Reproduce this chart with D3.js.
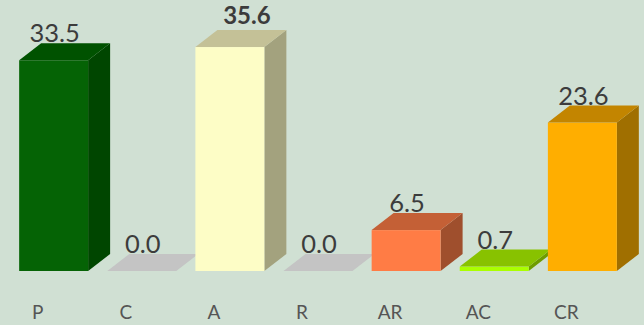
<!DOCTYPE html>
<html>
<head>
<meta charset="utf-8">
<script src="https://cdn.jsdelivr.net/npm/d3@7"></script>
<style>
  html, body { margin: 0; padding: 0; background: #d0e0d3; }
  svg { display: block; }
</style>
</head>
<body>
<svg id="chart" width="644" height="325"></svg>
<script>
// Category codes along the x axis
const categories = ["P", "C", "A", "R", "AR", "AC", "CR"];
// Value for each category
const values = [33.5, 0.0, 35.6, 0.0, 6.5, 0.7, 23.6];
// Face colours per category: front, top, side
const frontColors = ["#056305", "#c4c4c4", "#fdfdc6", "#c4c4c4", "#ff7c45", "#aaff00", "#ffae00"];
const topColors   = ["#005200", "#c4c4c4", "#c4c197", "#c4c4c4", "#c46036", "#88c200", "#c38500"];
const sideColors  = ["#004600", "#c4c4c4", "#a3a27e", "#c4c4c4", "#9f4f2d", "#6e9c00", "#a06f00"];

const W = 644, H = 325;
const depthX = 22, depthY = 17;   // oblique depth of each box
const baseY = 271;

const svg = d3.select("#chart");

const x = d3.scaleBand()
  .domain(categories)
  .range([0, 636])
  .padding(0.2174);

const y = d3.scaleLinear()
  .domain([0, 40])
  .range([baseY, baseY - 251.6]);

const maxVal = d3.max(values);
const data = categories.map((c, i) => ({
  cat: c, v: values[i], front: frontColors[i], top: topColors[i], side: sideColors[i]
}));

const bars = svg.append("g").attr("class", "bars");

data.forEach(d => {
  const x0 = x(d.cat), x1 = x0 + x.bandwidth();
  const yt = y(d.v), yb = y(0);
  const g = bars.append("g");
  if (d.v > 0) {
    // side face
    g.append("polygon")
      .attr("points", [[x1, yt], [x1 + depthX, yt - depthY], [x1 + depthX, yb - depthY], [x1, yb]].join(" "))
      .attr("fill", d.side);
    // front face
    g.append("rect")
      .attr("x", x0).attr("y", yt)
      .attr("width", x.bandwidth()).attr("height", yb - yt)
      .attr("fill", d.front);
  }
  // top face
  g.append("polygon")
    .attr("points", [[x0, yt], [x0 + depthX, yt - depthY], [x1 + depthX, yt - depthY], [x1, yt]].join(" "))
    .attr("fill", d.top);
});

// Value labels
const labels = svg.append("g").attr("class", "values")
  .style("font-family", "Lato, 'Open Sans', sans-serif");

data.forEach(d => {
  const isMax = d.v === maxVal;
  labels.append("text")
    .attr("x", x(d.cat) + x.bandwidth() / 2 + 1 + (isMax ? 16 : 0))
    .attr("y", y(d.v) - depthY - 1 - (isMax ? 5 : 0))
    .attr("text-anchor", "middle")
    .attr("font-size", isMax ? 24 : 25.5)
    .attr("font-weight", isMax ? "bold" : "normal")
    .attr("fill", "#3c3c3c")
    .text(d.v.toFixed(1));
});

// Category axis
const axis = svg.append("g")
  .attr("transform", `translate(-16, 0)`)
  .call(d3.axisBottom(x).tickSize(0));
axis.select(".domain").remove();
axis.selectAll("text")
  .attr("y", 319)
  .attr("dy", null)
  .attr("fill", "#555")
  .style("font-family", "Lato, 'Open Sans', sans-serif")
  .style("font-size", "19px");
</script>
</body>
</html>
